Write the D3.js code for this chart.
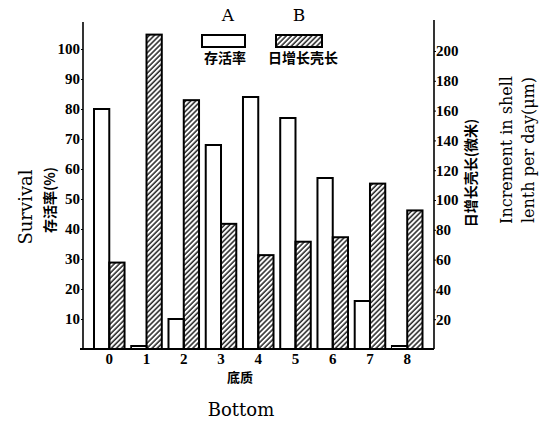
<!DOCTYPE html>
<html>
<head>
<meta charset="utf-8">
<script src="https://cdn.jsdelivr.net/npm/d3@7"></script>
<style>
  body { margin: 0; background: #fff; }
  svg { display: block; }
</style>
</head>
<body>
<script>
// data
var categories = ["0", "1", "2", "3", "4", "5", "6", "7", "8"];
var survival = [80, 1, 10, 68, 84, 77, 57, 16, 1];          // A, left axis (%)
var increment = [58, 211, 167, 84, 63, 72, 75, 111, 93];    // B, right axis (um)
var leftTicks = [10, 20, 30, 40, 50, 60, 70, 80, 90, 100];
var rightTicks = [20, 40, 60, 80, 100, 120, 140, 160, 180, 200];

var width = 539, height = 421;
var baseY = 349, leftX = 83, rightX = 434;

var svg = d3.select("body").append("svg")
    .attr("width", width)
    .attr("height", height);

// hatch pattern for series B
var defs = svg.append("defs");
defs.append("pattern")
    .attr("id", "hatch")
    .attr("patternUnits", "userSpaceOnUse")
    .attr("width", 3.6)
    .attr("height", 3.6)
    .attr("patternTransform", "rotate(45)")
    .append("line")
    .attr("x1", 1).attr("y1", 0)
    .attr("x2", 1).attr("y2", 3.6)
    .attr("stroke", "#000")
    .attr("stroke-width", 1.3);

var x = d3.scaleBand()
    .domain(categories)
    .range([94, 422.5])
    .paddingInner(0.18)
    .paddingOuter(0);

var yL = d3.scaleLinear().domain([0, 100]).range([baseY, 49]);
var yR = d3.scaleLinear().domain([0, 200]).range([baseY, 51]);

var serif = "'Liberation Serif', 'DejaVu Serif', serif";
var cjk = "'Noto Sans CJK SC', sans-serif";

//bars A (white)
svg.selectAll(".barA")
    .data(survival)
    .enter()
    .append("rect")
    .attr("class", "barA")
    .attr("x", function (d, i) { return x(categories[i]); })
    .attr("width", x.bandwidth() / 2)
    .attr("y", function (d) { return yL(d); })
    .attr("height", function (d) { return baseY - yL(d); })
    .style("fill", "#fff")
    .style("stroke", "#000")
    .style("stroke-width", 2);

//bars B (hatched)
svg.selectAll(".barB")
    .data(increment)
    .enter()
    .append("rect")
    .attr("class", "barB")
    .attr("x", function (d, i) { return x(categories[i]) + x.bandwidth() / 2; })
    .attr("width", x.bandwidth() / 2)
    .attr("y", function (d) { return yR(d); })
    .attr("height", function (d) { return baseY - yR(d); })
    .style("fill", "url(#hatch)")
    .style("stroke", "#000")
    .style("stroke-width", 2);

// axis lines
svg.append("line")
    .attr("x1", leftX).attr("x2", leftX)
    .attr("y1", 22).attr("y2", baseY)
    .attr("stroke", "#000").attr("stroke-width", 1.6);
svg.append("line")
    .attr("x1", rightX).attr("x2", rightX)
    .attr("y1", 20).attr("y2", baseY)
    .attr("stroke", "#000").attr("stroke-width", 1.6);
svg.append("line")
    .attr("x1", 80).attr("x2", rightX)
    .attr("y1", baseY).attr("y2", baseY)
    .attr("stroke", "#000").attr("stroke-width", 2);

// left axis
var leftAxis = svg.append("g")
    .attr("transform", "translate(" + leftX + ",0)")
    .call(d3.axisLeft(yL).tickValues(leftTicks).tickSize(2).tickPadding(1));
leftAxis.select(".domain").remove();
leftAxis.selectAll("text")
    .style("font-family", serif)
    .style("font-weight", "bold")
    .style("font-size", "15px")
    .attr("fill", "#000");

// right axis
var rightAxis = svg.append("g")
    .attr("transform", "translate(" + rightX + ",0)")
    .call(d3.axisRight(yR).tickValues(rightTicks).tickSize(2).tickPadding(0));
rightAxis.select(".domain").remove();
rightAxis.selectAll("text")
    .style("font-family", serif)
    .style("font-weight", "bold")
    .style("font-size", "15px")
    .attr("fill", "#000");

// bottom axis labels
var bottomAxis = svg.append("g")
    .attr("transform", "translate(0," + baseY + ")")
    .call(d3.axisBottom(x).tickSize(0).tickPadding(4));
bottomAxis.select(".domain").remove();
bottomAxis.selectAll("text")
    .style("font-family", serif)
    .style("font-weight", "bold")
    .style("font-size", "15px")
    .attr("fill", "#000");

// titles
svg.append("text")
    .attr("transform", "translate(32,207) rotate(-90)")
    .attr("text-anchor", "middle")
    .style("font-family", "'DejaVu Serif', serif")
    .style("font-size", "18px")
    .text("Survival");
svg.append("text")
    .attr("transform", "translate(55,200) rotate(-90)")
    .attr("text-anchor", "middle")
    .style("font-family", cjk)
    .style("font-weight", "bold")
    .style("font-size", "14px")
    .text("存活率(%)");

svg.append("text")
    .attr("transform", "translate(476,173) rotate(-90)")
    .attr("text-anchor", "middle")
    .style("font-family", cjk)
    .style("font-weight", "bold")
    .style("font-size", "14px")
    .text("日增长壳长(微米)");
svg.append("text")
    .attr("transform", "translate(512,150) rotate(-90)")
    .attr("text-anchor", "middle")
    .style("font-family", "'DejaVu Serif', serif")
    .style("font-size", "16px")
    .text("Increment in shell");
svg.append("text")
    .attr("transform", "translate(534,150) rotate(-90)")
    .attr("text-anchor", "middle")
    .style("font-family", "'DejaVu Serif', serif")
    .style("font-size", "16px")
    .text("lenth per day(μm)");

svg.append("text")
    .attr("x", 240).attr("y", 382)
    .attr("text-anchor", "middle")
    .style("font-family", cjk)
    .style("font-weight", "bold")
    .style("font-size", "13px")
    .text("底质");
svg.append("text")
    .attr("x", 241).attr("y", 416)
    .attr("text-anchor", "middle")
    .style("font-family", "'DejaVu Serif', serif")
    .style("font-size", "18px")
    .text("Bottom");

// legend
var legendItems = [
    { key: "A", name: "存活率", x: 202, fill: "#fff" },
    { key: "B", name: "日增长壳长", x: 276, fill: "url(#hatch)" }
];
var legend = svg.selectAll(".legend")
    .data(legendItems)
    .enter()
    .append("g")
    .attr("class", "legend");
legend.append("text")
    .attr("x", function (d, i) { return i == 0 ? 228 : 299; })
    .attr("y", 21)
    .attr("text-anchor", "middle")
    .style("font-family", "'DejaVu Serif', serif")
    .style("font-size", "17px")
    .text(function (d) { return d.key; });
legend.append("rect")
    .attr("x", function (d) { return d.x; })
    .attr("y", 35)
    .attr("width", function (d, i) { return i == 0 ? 43 : 46; })
    .attr("height", 12)
    .style("fill", function (d) { return d.fill; })
    .style("stroke", "#000")
    .style("stroke-width", 2);
legend.append("text")
    .attr("x", function (d, i) { return i == 0 ? 225 : 303; })
    .attr("y", 63)
    .attr("text-anchor", "middle")
    .style("font-family", cjk)
    .style("font-weight", "bold")
    .style("font-size", "14px")
    .text(function (d) { return d.name; });
</script>
</body>
</html>
